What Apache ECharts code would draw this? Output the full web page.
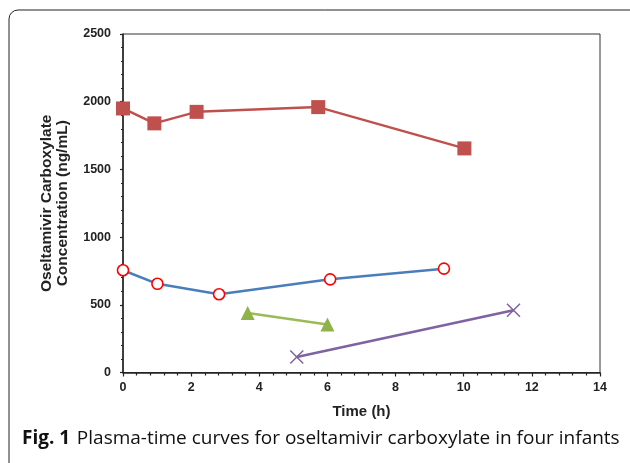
<!DOCTYPE html>
<html><head><meta charset="utf-8">
<script src="https://cdn.jsdelivr.net/npm/echarts@6/dist/echarts.min.js"></script>
<style>html,body{margin:0;padding:0;background:#fff}#c{width:630px;height:463px}</style>
</head><body><div id="c"></div>
<script>
// Time (h) and concentration (ng/mL) for the four infants
const infantA_time = [0, 0.92, 2.16, 5.73, 10.02];
const infantA_conc = [1950, 1840, 1925, 1960, 1655];
const infantB_time = [0, 1.01, 2.82, 6.08, 9.42];
const infantB_conc = [755, 655, 578, 688, 767];
const infantC_time = [3.66, 6.0];
const infantC_conc = [440, 355];
const infantD_time = [5.1, 11.46];
const infantD_conc = [115, 460];
const xTicks = [0, 2, 4, 6, 8, 10, 12, 14];
const yTicks = [0, 500, 1000, 1500, 2000, 2500];

const pair = (t, c) => t.map((v, i) => [v, c[i]]);
const chart = echarts.init(document.getElementById('c'));
const lab = {fontFamily: 'Liberation Sans, Arial', fontWeight: 'bold', fontSize: 12.5, color: '#222', formatter: v => String(v)};
chart.setOption({
  animation: false,
  grid: {left: 123, right: 30, top: 34, bottom: 90.5, show: true, borderColor: '#333', borderWidth: 1, backgroundColor: 'transparent'},
  xAxis: {
    type: 'value', min: xTicks[0], max: xTicks[xTicks.length - 1], interval: 2,
    name: 'Time (h)', nameLocation: 'middle', nameGap: 32,
    nameTextStyle: {fontFamily: 'Liberation Sans, Arial', fontWeight: 'bold', fontSize: 15, color: '#222'},
    axisLine: {lineStyle: {color: '#222', width: 1.5}},
    axisTick: {show: true, length: 4, lineStyle: {color: '#222', width: 1.2}},
    minorTick: {show: true, splitNumber: 5, length: 3, lineStyle: {color: '#222', width: 1.2}},
    splitLine: {show: false},
    axisLabel: Object.assign({margin: 9}, lab)
  },
  yAxis: {
    type: 'value', min: yTicks[0], max: yTicks[yTicks.length - 1], interval: 500,
    name: 'Oseltamivir Carboxylate\nConcentration (ng/mL)', nameLocation: 'middle', nameGap: 52, nameRotate: 90,
    nameTextStyle: {fontFamily: 'Liberation Sans, Arial', fontWeight: 'bold', fontSize: 15.5, color: '#222', lineHeight: 16.5},
    axisLine: {lineStyle: {color: '#222', width: 1.5}},
    axisTick: {show: true, length: 3, lineStyle: {color: '#222', width: 1.2}},
    minorTick: {show: true, splitNumber: 5, length: 2, lineStyle: {color: '#222', width: 1.2}},
    splitLine: {show: false},
    axisLabel: Object.assign({margin: 12}, lab)
  },
  series: [
    {type: 'line', data: pair(infantA_time, infantA_conc), symbol: 'rect', symbolSize: 14,
     lineStyle: {color: '#C0504D', width: 2.5}, itemStyle: {color: '#C0504D'}, z: 3},
    {type: 'line', data: pair(infantB_time, infantB_conc), symbol: 'circle', symbolSize: 11,
     lineStyle: {color: '#4A7EBB', width: 2.5}, itemStyle: {color: '#fff', borderColor: '#FF0000', borderWidth: 1.6}, z: 3},
    {type: 'line', data: pair(infantC_time, infantC_conc), symbol: 'triangle', symbolSize: 14,
     lineStyle: {color: '#9BBB59', width: 2.5}, itemStyle: {color: '#8DB34A'}, z: 3},
    {type: 'line', data: pair(infantD_time, infantD_conc), symbol: 'path://M0,0L10,10M10,0L0,10', symbolSize: 13,
     lineStyle: {color: '#7E62A1', width: 2.5}, itemStyle: {color: 'transparent', borderColor: '#7E62A1', borderWidth: 1.5}, z: 3}
  ],
  graphic: [
    {type: 'rect', shape: {x: 9, y: 10, width: 640, height: 470, r: 9}, style: {fill: 'none', stroke: '#222', lineWidth: 1}, silent: true},
    {type: 'text', left: 22, top: 429, style: {
      text: '{b|Fig. 1}  {n|Plasma-time curves for oseltamivir carboxylate in four infants}',
      rich: {
        b: {fontFamily: 'Open Sans', fontWeight: 'bold', fontSize: 19, fill: '#111'},
        n: {fontFamily: 'Open Sans', fontSize: 19, fill: '#111'}
      }
    }}
  ]
});
</script></body></html>
